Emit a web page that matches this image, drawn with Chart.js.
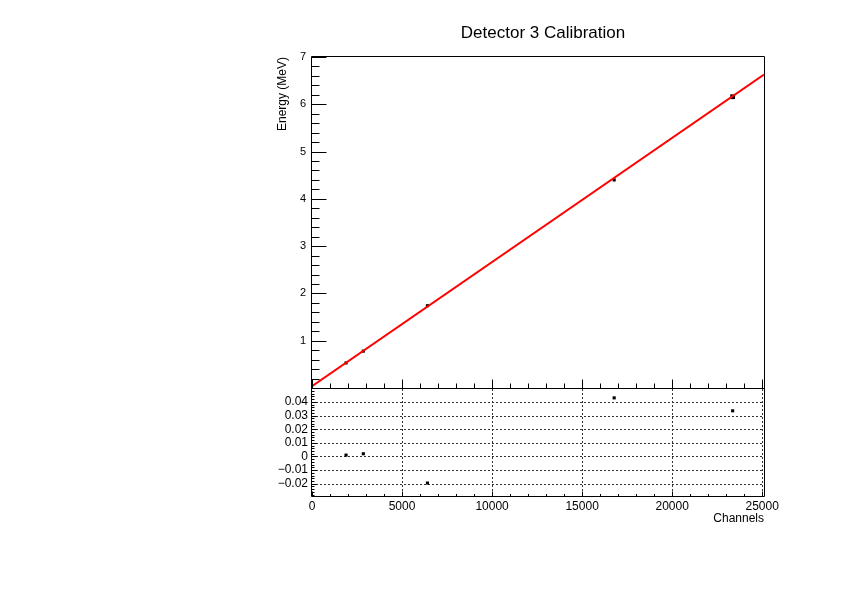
<!DOCTYPE html>
<html>
<head>
<meta charset="utf-8">
<script src="https://cdn.jsdelivr.net/npm/chart.js@4.4.0/dist/chart.umd.min.js"></script>
<style>
  html, body { margin: 0; padding: 0; background: #fff; }
  #wrap { position: relative; width: 842px; height: 595px; }
  canvas { position: absolute; left: 0; top: 0; }
</style>
</head>
<body>
<div id="wrap">
  <canvas id="calib" width="842" height="595"></canvas>
  <canvas id="resid" width="842" height="595"></canvas>
</div>
<script>
// calibration points (channel -> energy) and residuals of the fit
const channels = [1890, 2850, 6410, 16780, 23360];
const energies = [0.53, 0.78, 1.74, 4.40, 6.16];
const residuals = [0.001, 0.002, -0.0195, 0.043, 0.0335];

const fitChannels = [0, 25100];
const fitEnergies = [0.04, 6.63];

// major ticks
const channelTicks = [0, 5000, 10000, 15000, 20000, 25000];
const energyTicks = [0, 1, 2, 3, 4, 5, 6, 7];
const residualTicks = [-0.02, -0.01, 0, 0.01, 0.02, 0.03, 0.04];

const FONT = 'Liberation Sans, Arial, Helvetica, sans-serif';

const useTicks = list => s => { s.ticks = list.map(v => ({ value: v })); };

// values between major ticks, every 1/sub of a step
function minorValues(scale, sub) {
    const majors = scale.ticks.map(t => t.value);
    if (majors.length < 2) return [];
    const step = (majors[1] - majors[0]) / sub;
    const out = [];
    const i0 = Math.ceil((scale.min - majors[0]) / step - 1e-6);
    const i1 = Math.floor((scale.max - majors[0]) / step + 1e-6);
    for (let i = i0; i <= i1; i++) {
        if (i % sub !== 0) out.push(majors[0] + i * step);
    }
    return out;
}

// ROOT-like frame: inward ticks, dotted grid, thin box
const rootFrame = {
    id: 'rootFrame',
    beforeDatasetsDraw(chart, args, o) {
        if (!o.grid) return;
        const { ctx, chartArea: a, scales: { x, y } } = chart;
        ctx.save();
        ctx.strokeStyle = '#333';
        ctx.lineWidth = 1;
        ctx.setLineDash([2, 2]);
        ctx.beginPath();
        x.ticks.forEach(t => {
            const px = Math.round(x.getPixelForValue(t.value)) + 0.5;
            if (px < a.left + 2) return;
            ctx.moveTo(px, a.top);
            ctx.lineTo(px, a.bottom);
        });
        y.ticks.forEach(t => {
            const py = Math.round(y.getPixelForValue(t.value)) + 0.5;
            ctx.moveTo(a.left, py);
            ctx.lineTo(a.right, py);
        });
        ctx.stroke();
        ctx.restore();
    },
    afterDatasetsDraw(chart, args, o) {
        const { ctx, chartArea: a, scales: { x, y } } = chart;
        const L = Math.round(a.left) - 0.5, R = Math.round(a.right) + 0.5;
        const T = Math.round(a.top) - 0.5, B = Math.round(a.bottom) + 0.5;
        ctx.save();
        ctx.strokeStyle = '#000';
        ctx.lineWidth = 1;
        ctx.beginPath();
        ctx.rect(L, T, R - L, B - T);
        // x ticks, pointing up from the bottom edge
        x.ticks.forEach(t => {
            const px = Math.round(x.getPixelForValue(t.value)) + 0.5;
            ctx.moveTo(px, B);
            ctx.lineTo(px, B - o.xMajor);
        });
        minorValues(x, o.xSub).forEach(v => {
            const px = Math.round(x.getPixelForValue(v)) + 0.5;
            ctx.moveTo(px, B);
            ctx.lineTo(px, B - o.xMinor);
        });
        // y ticks, pointing right from the left edge
        y.ticks.forEach(t => {
            const py = Math.round(y.getPixelForValue(t.value)) + 0.5;
            ctx.moveTo(L, py);
            ctx.lineTo(L + o.yMajor, py);
        });
        minorValues(y, o.ySub).forEach(v => {
            const py = Math.round(y.getPixelForValue(v)) + 0.5;
            ctx.moveTo(L, py);
            ctx.lineTo(L + o.yMinor, py);
        });
        ctx.stroke();
        ctx.restore();
    }
};

// free text: titles of the plot and the axes
const labels = {
    id: 'labels',
    afterDraw(chart, args, o) {
        const ctx = chart.ctx;
        ctx.save();
        ctx.fillStyle = '#000';
        o.items.forEach(it => {
            ctx.save();
            ctx.font = it.size + 'px ' + FONT;
            ctx.textAlign = it.align;
            ctx.textBaseline = 'alphabetic';
            ctx.translate(it.x, it.y);
            if (it.rotate) ctx.rotate(-Math.PI / 2);
            ctx.fillText(it.text, 0, 0);
            ctx.restore();
        });
        ctx.restore();
    }
};

const hidden = { display: false, drawTicks: false };

new Chart(document.getElementById('calib'), {
    type: 'scatter',
    data: {
        datasets: [{
            data: fitChannels.map((c, i) => ({ x: c, y: fitEnergies[i] })),
            showLine: true,
            borderColor: '#ff0000',
            borderWidth: 2,
            pointRadius: 0,
            order: 0
        }, {
            data: channels.map((c, i) => ({ x: c, y: energies[i] })),
            pointStyle: 'rect',
            pointRadius: [2.2, 2.2, 2.2, 2.2, 3.4],
            backgroundColor: '#000',
            borderWidth: 0,
            order: 1
        }]
    },
    options: {
        responsive: false,
        animation: false,
        events: [],
        layout: { padding: { left: 0, top: 57, right: 78, bottom: 0 }, autoPadding: false },
        plugins: {
            legend: { display: false },
            tooltip: { enabled: false },
            rootFrame: { xMajor: 9, xMinor: 5, yMajor: 15, yMinor: 8, xSub: 5, ySub: 5, grid: false },
            labels: {
                items: [
                    { text: 'Detector 3 Calibration', x: 543, y: 38, size: 17, align: 'center' },
                    { text: 'Energy (MeV)', x: 286, y: 57, size: 12, align: 'right', rotate: true }
                ]
            }
        },
        scales: {
            x: {
                type: 'linear', min: 0, max: 25100,
                afterBuildTicks: useTicks(channelTicks),
                ticks: { display: false },
                grid: hidden, border: { display: false },
                afterFit: s => { s.height = 207; }
            },
            y: {
                min: 0, max: 7,
                afterBuildTicks: useTicks(energyTicks),
                ticks: {
                    padding: 6, color: '#000',
                    font: { family: FONT, size: 11 },
                    callback: v => (v === 0 ? '' : String(v))
                },
                grid: hidden, border: { display: false },
                afterFit: s => { s.width = 312; }
            }
        }
    },
    plugins: [rootFrame, labels]
});

new Chart(document.getElementById('resid'), {
    type: 'scatter',
    data: {
        datasets: [{
            data: channels.map((c, i) => ({ x: c, y: residuals[i] })),
            pointStyle: 'rect',
            pointRadius: 2.2,
            backgroundColor: '#000',
            borderWidth: 0
        }]
    },
    options: {
        responsive: false,
        animation: false,
        events: [],
        layout: { padding: { left: 0, top: 389, right: 78, bottom: 0 }, autoPadding: false },
        plugins: {
            legend: { display: false },
            tooltip: { enabled: false },
            rootFrame: { xMajor: 5, xMinor: 2.5, yMajor: 5, yMinor: 3, xSub: 5, ySub: 5, grid: true },
            labels: {
                items: [
                    { text: 'Channels', x: 764, y: 522, size: 12, align: 'right' }
                ]
            }
        },
        scales: {
            x: {
                type: 'linear', min: 0, max: 25100,
                afterBuildTicks: useTicks(channelTicks),
                ticks: {
                    padding: 3, color: '#000',
                    autoSkip: false, maxRotation: 0,
                    font: { family: FONT, size: 12 },
                    callback: v => String(v)
                },
                grid: hidden, border: { display: false },
                afterFit: s => { s.height = 99; }
            },
            y: {
                min: -0.029, max: 0.0495,
                afterBuildTicks: useTicks(residualTicks),
                ticks: {
                    padding: 4, color: '#000',
                    font: { family: FONT, size: 12 },
                    callback: v => {
                        const r = Math.round(v * 100) / 100;
                        return r === 0 ? '0' : (r < 0 ? '\u2212' + (-r).toFixed(2) : r.toFixed(2));
                    }
                },
                grid: hidden, border: { display: false },
                afterFit: s => { s.width = 312; }
            }
        }
    },
    plugins: [rootFrame, labels]
});
</script>
</body>
</html>
